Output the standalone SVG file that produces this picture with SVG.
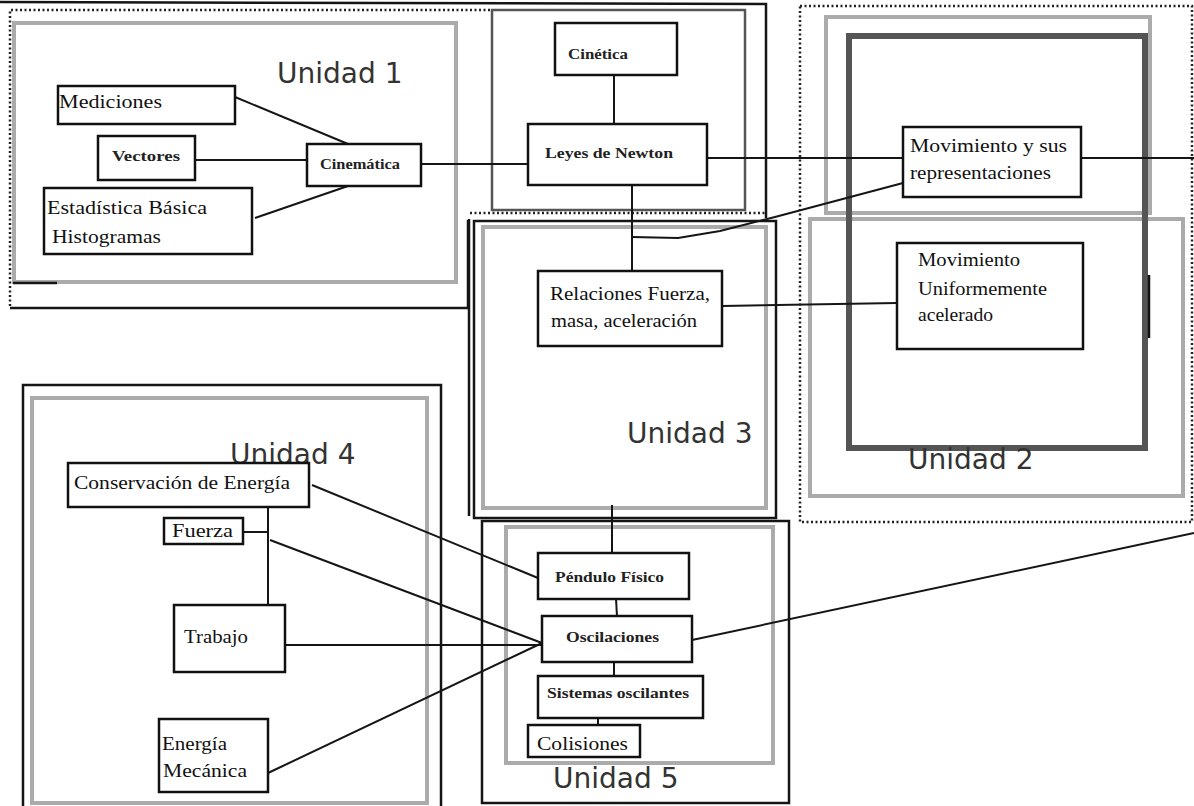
<svg xmlns="http://www.w3.org/2000/svg" width="1194" height="806" viewBox="0 0 1194 806">
<style>
.frame{fill:none;stroke:#151515;stroke-width:2.5}
.dot{fill:none;stroke:#222;stroke-width:2.5;stroke-dasharray:2 2.5}
.gray{fill:none;stroke:#ababab;stroke-width:4}
.dark{fill:none;stroke:#555;stroke-width:6}
.node rect{fill:#fff;stroke:#111;stroke-width:2.5}
.conn line,.conn polyline{stroke:#151515;stroke-width:2;fill:none}
.unit{font-family:"DejaVu Sans",Verdana,sans-serif;font-size:28px;fill:#333}
.t{font-family:"Liberation Serif","Times New Roman",serif;font-size:19px;fill:#111}
.s{font-family:"Liberation Serif","Times New Roman",serif;font-size:15.5px;font-weight:bold;fill:#222}
</style>
<rect width="1194" height="806" fill="#fff"/>

<g id="frames">
  <polyline class="frame" points="0,2 766,4 766,218"/>
  <line class="dot" x1="470" y1="213" x2="766" y2="213"/>
  <rect x="492" y="10" width="253" height="200" fill="none" stroke="#555" stroke-width="2.5"/>
  <polyline class="dot" points="490,10 10,10 10,308"/>
  <polyline class="frame" points="10,308 468,308 468,220"/>
  <rect class="gray" x="14" y="23" width="442" height="259"/>
  <line class="frame" x1="13" y1="283" x2="57" y2="283"/>
  <rect class="frame" x="474" y="221" width="302" height="297" stroke-width="3"/>
  <line class="frame" x1="469" y1="219" x2="469" y2="516"/>
  <rect class="gray" x="483" y="227" width="283" height="281"/>
  <rect class="frame" x="482" y="521" width="307" height="282"/>
  <rect class="gray" x="506" y="527" width="267" height="236"/>
  <rect class="frame" x="23" y="385" width="418" height="430" stroke-width="3"/>
  <rect class="gray" x="32" y="398" width="395" height="405"/>
  <rect class="dot" x="800" y="6" width="392" height="516"/>
  <rect class="gray" x="826" y="17" width="324" height="196"/>
  <rect class="gray" x="810" y="219" width="373" height="277"/>
  <rect class="dark" x="849" y="36" width="296" height="412"/>
  <line class="frame" x1="1149" y1="275" x2="1149" y2="338"/>
</g>

<g id="unit-labels">
  <text class="unit" x="277" y="83">Unidad 1</text>
  <text class="unit" x="908" y="469">Unidad 2</text>
  <text class="unit" x="627" y="443">Unidad 3</text>
  <text class="unit" x="230" y="464">Unidad 4</text>
  <text class="unit" x="553" y="788">Unidad 5</text>
</g>

<g id="connectors" class="conn">
  <line x1="235" y1="97" x2="348" y2="144"/>
  <line x1="195" y1="160" x2="307" y2="160"/>
  <line x1="255" y1="218" x2="348" y2="186"/>
  <line x1="421" y1="164" x2="528" y2="164"/>
  <line x1="614" y1="75" x2="614" y2="124"/>
  <line x1="707" y1="158" x2="903" y2="158"/>
  <line x1="1081" y1="158" x2="1194" y2="158"/>
  <line x1="632" y1="185" x2="632" y2="271"/>
  <polyline points="632,237 678,238 720,231 775,217 903,183"/>
  <line x1="722" y1="306" x2="897" y2="303"/>
  <line x1="612" y1="505" x2="612" y2="553"/>
  <line x1="616" y1="599" x2="617" y2="616"/>
  <line x1="614" y1="662" x2="614" y2="676"/>
  <line x1="598" y1="718" x2="598" y2="725"/>
  <line x1="312" y1="485" x2="538" y2="578"/>
  <line x1="268" y1="507" x2="268" y2="605"/>
  <line x1="243" y1="532" x2="268" y2="532"/>
  <line x1="270" y1="540" x2="542" y2="643"/>
  <line x1="285" y1="645" x2="542" y2="645"/>
  <line x1="268" y1="773" x2="542" y2="643"/>
  <line x1="692" y1="640" x2="1194" y2="533"/>
</g>

<g id="n-mediciones" class="node"><rect x="58" y="86" width="177" height="38"/><text class="t" x="59" y="108" textLength="103" lengthAdjust="spacingAndGlyphs">Mediciones</text></g>
<g id="n-vectores" class="node"><rect x="98" y="136" width="97" height="44"/><text class="s" x="112" y="161" textLength="68" lengthAdjust="spacingAndGlyphs">Vectores</text></g>
<g id="n-estadistica" class="node"><rect x="44" y="188" width="208" height="66"/><text class="t" x="47" y="214" textLength="160" lengthAdjust="spacingAndGlyphs">Estadística Básica</text><text class="t" x="52" y="243" textLength="109" lengthAdjust="spacingAndGlyphs">Histogramas</text></g>
<g id="n-cinematica" class="node"><rect x="307" y="144" width="114" height="42"/><text class="s" x="320" y="169" textLength="80" lengthAdjust="spacingAndGlyphs">Cinemática</text></g>
<g id="n-cinetica" class="node"><rect x="555" y="23" width="122" height="52"/><text class="s" x="568" y="59" textLength="60" lengthAdjust="spacingAndGlyphs">Cinética</text></g>
<g id="n-leyes" class="node"><rect x="528" y="124" width="179" height="61"/><text class="s" x="545" y="158" textLength="128" lengthAdjust="spacingAndGlyphs">Leyes de Newton</text></g>
<g id="n-relaciones" class="node"><rect x="538" y="271" width="184" height="75"/><text class="t" x="550" y="300" textLength="160" lengthAdjust="spacingAndGlyphs">Relaciones Fuerza,</text><text class="t" x="551" y="327" textLength="146" lengthAdjust="spacingAndGlyphs">masa, aceleración</text></g>
<g id="n-movrep" class="node"><rect x="903" y="127" width="178" height="70"/><text class="t" x="910" y="152" textLength="157" lengthAdjust="spacingAndGlyphs">Movimiento y sus</text><text class="t" x="910" y="179" textLength="141" lengthAdjust="spacingAndGlyphs">representaciones</text></g>
<g id="n-mua" class="node"><rect x="897" y="243" width="186" height="106"/><text class="t" x="918" y="266" textLength="102" lengthAdjust="spacingAndGlyphs">Movimiento</text><text class="t" x="918" y="295" textLength="129" lengthAdjust="spacingAndGlyphs">Uniformemente</text><text class="t" x="918" y="321" textLength="75" lengthAdjust="spacingAndGlyphs">acelerado</text></g>
<g id="n-conservacion" class="node"><rect x="68" y="463" width="241" height="44"/><text class="t" x="74" y="489" textLength="216" lengthAdjust="spacingAndGlyphs">Conservación de Energía</text></g>
<g id="n-fuerza" class="node"><rect x="164" y="518" width="79" height="26"/><text class="t" x="172" y="537" textLength="61" lengthAdjust="spacingAndGlyphs">Fuerza</text></g>
<g id="n-trabajo" class="node"><rect x="174" y="605" width="111" height="67"/><text class="t" x="184" y="643" textLength="64" lengthAdjust="spacingAndGlyphs">Trabajo</text></g>
<g id="n-energia" class="node"><rect x="159" y="719" width="109" height="73"/><text class="t" x="162" y="750" textLength="65" lengthAdjust="spacingAndGlyphs">Energía</text><text class="t" x="163" y="777" textLength="84" lengthAdjust="spacingAndGlyphs">Mecánica</text></g>
<g id="n-pendulo" class="node"><rect x="538" y="553" width="151" height="46"/><text class="s" x="555" y="582" textLength="109" lengthAdjust="spacingAndGlyphs">Péndulo Físico</text></g>
<g id="n-oscilaciones" class="node"><rect x="542" y="616" width="150" height="46"/><text class="s" x="566" y="642" textLength="93" lengthAdjust="spacingAndGlyphs">Oscilaciones</text></g>
<g id="n-sistemas" class="node"><rect x="538" y="676" width="165" height="42"/><text class="s" x="547" y="698" textLength="142" lengthAdjust="spacingAndGlyphs">Sistemas oscilantes</text></g>
<g id="n-colisiones" class="node"><rect x="528" y="725" width="112" height="32"/><text class="t" x="537" y="750" textLength="91" lengthAdjust="spacingAndGlyphs">Colisiones</text></g>
</svg>
